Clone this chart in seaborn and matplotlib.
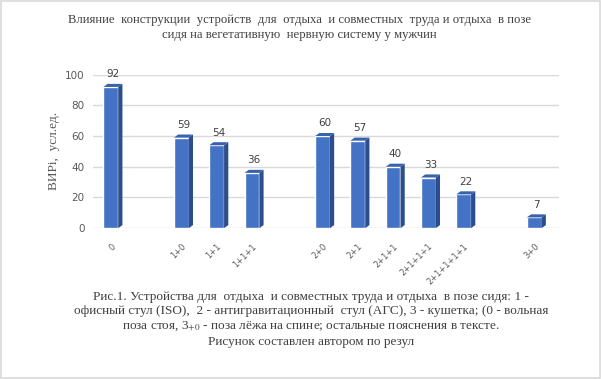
import matplotlib
matplotlib.use("Agg")
import matplotlib.pyplot as plt
from matplotlib.patches import Polygon, Rectangle
import numpy as np
import pandas as pd
import seaborn as sns

categories = ["0", "1+0", "1+1", "1+1+1", "2+0", "2+1", "2+1+1",
              "2+1+1+1", "2+1+1+1+1", "3+0"]
values = [92, 59, 54, 36, 60, 57, 40, 33, 22, 7]
# empty slots between the groups of devices
order = ["0", " ", "1+0", "1+1", "1+1+1", "  ", "2+0", "2+1", "2+1+1",
         "2+1+1+1", "2+1+1+1+1", "   ", "3+0"]
yticks = [0, 20, 40, 60, 80, 100]

title = ("Влияние  конструкции  устройств  для  отдыха  и совместных  труда и отдыха  в позе\n"
         "сидя на вегетативную  нервную систему у мужчин")
ylabel = "ВИРі,  усл.ед."
caption = ("Рис.1. Устройства для  отдыха  и совместных труда и отдыха  в позе сидя: 1 -\n"
           "офисный стул (ISO),  2 - антигравитационный  стул (АГС), 3 - кушетка; (0 - вольная\n"
           "поза стоя, 3$_{+0}$ - поза лёжа на спине; остальные пояснения в тексте.\n"
           "Рисунок составлен автором по резул")

front = "#4472C4"
side = "#2C4E8C"
topc = "#3762AE"
grey = "#595959"

sns.set_theme(style="white")
plt.rcParams["mathtext.fontset"] = "stix"

df = pd.DataFrame({"cat": categories, "val": values})

fig = plt.figure(figsize=(6.01, 3.79), dpi=100)
ax = fig.add_axes([0.155, 0.398, 0.775, 0.405])

sns.barplot(data=df, x="cat", y="val", order=order, color=front,
            width=0.42, saturation=1, ax=ax, zorder=3)

# fake 3D depth on each bar
dx, dy = 0.12, 2.0
for p in list(ax.patches):
    h = p.get_height()
    if np.isnan(h) or h == 0:
        continue
    x0 = p.get_x()
    x1 = x0 + p.get_width()
    ax.add_patch(Polygon([(x1, 0), (x1 + dx, dy), (x1 + dx, h + dy), (x1, h)],
                         closed=True, color=side, zorder=3, lw=0))
    ax.add_patch(Polygon([(x0, h), (x0 + dx, h + dy), (x1 + dx, h + dy), (x1, h)],
                         closed=True, color=topc, zorder=3, lw=0))
    ax.text((x0 + x1) / 2 + dx / 2, h + dy + 3, f"{h:.0f}", ha="center", va="bottom",
            fontsize=7.5, color="#404040", family="DejaVu Sans")

ax.set_xlim(-0.5, 12.7)
ax.set_ylim(0, 100)
ax.set_yticks(yticks)
ax.yaxis.grid(True, color="#D9D9D9", lw=1)
ax.set_axisbelow(True)
for s in ax.spines.values():
    s.set_visible(False)
ax.tick_params(axis="both", length=0, colors=grey)
ax.tick_params(axis="y", pad=6, labelsize=7.5)
ax.tick_params(axis="x", pad=10, labelsize=6)
plt.setp(ax.get_xticklabels(), rotation=45, ha="right", rotation_mode="anchor")
ax.set_xlabel("")
ax.set_ylabel(ylabel, family="Liberation Serif", fontsize=9.5, color=grey, labelpad=4)

fig.text(0.498, 0.928, title, ha="center", va="center", family="Liberation Serif",
         fontsize=9.2, color="#404040", linespacing=1.35)
fig.text(0.518, 0.158, caption, ha="center", va="center", family="Liberation Serif",
         fontsize=9.5, color="#404040", linespacing=1.27)

fig.patches.append(Rectangle((0.002, 0.003), 0.996, 0.994, transform=fig.transFigure,
                             fill=False, edgecolor="#D9D9D9", lw=1.2))

fig.savefig("out.png", dpi=100)
